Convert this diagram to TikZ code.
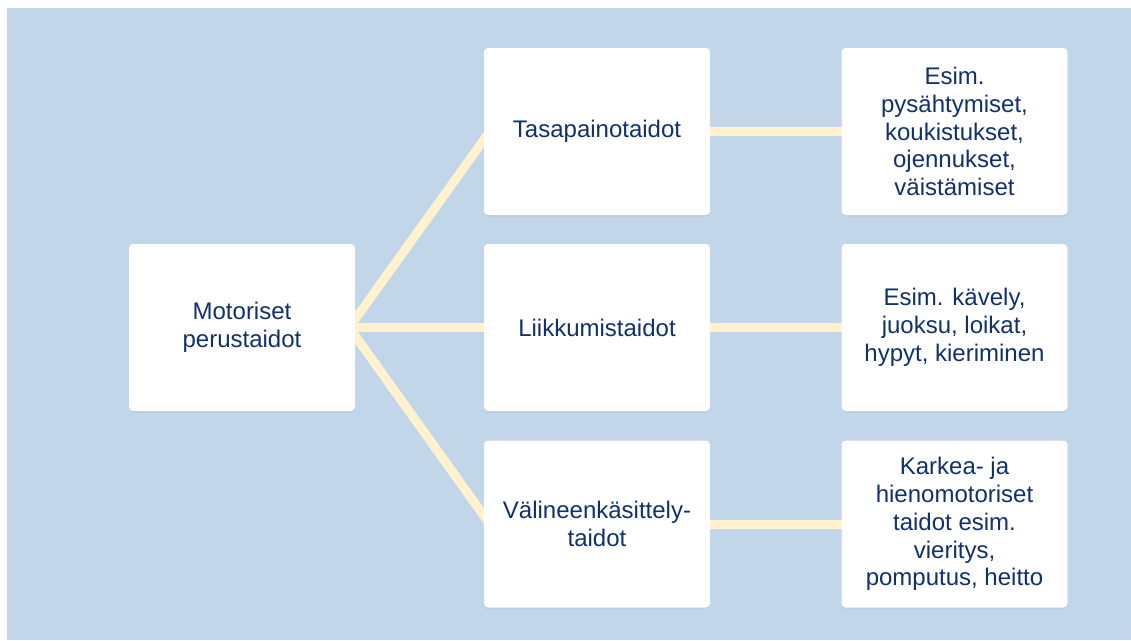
\documentclass[tikz,border=0pt]{standalone}
\usepackage{fontspec}
\setmainfont{Liberation Sans}
\usetikzlibrary{shadows,backgrounds}
\definecolor{bgblue}{RGB}{194,214,234}
\definecolor{txtblue}{RGB}{16,48,110}
\definecolor{cream}{RGB}{255,242,204}
\tikzset{
  card/.style={rectangle, rounded corners=4pt, fill=white, draw=none,
    minimum width=226pt, minimum height=167pt, align=center,
    text=txtblue, font=\fontsize{24}{27.8}\selectfont,
    drop shadow={opacity=0.12, shadow xshift=0pt, shadow yshift=-1.5pt}},
  link/.style={line width=9pt, cream}
}
\begin{document}
\begin{tikzpicture}[x=1pt,y=-1pt]
\useasboundingbox (0,0) rectangle (1131,640);
\node[card] (root) at (242,327.5) {Motoriset\\perustaidot};
\node[card] (m1) at (597,131.5) {Tasapainotaidot};
\node[card] (m2) at (597,327.5) {Liikkumistaidot};
\node[card] (m3) at (597,524) {Välineenkäsittely-\\taidot};
\node[card] (r1) at (954.5,131.5) {Esim.\\pysähtymiset,\\koukistukset,\\ojennukset,\\väistämiset};
\node[card] (r2) at (954.5,327.5) {Esim. kävely,\\juoksu, loikat,\\hypyt, kieriminen};
\node[card] (r3) at (954.5,524) {Karkea- ja\\hienomotoriset\\taidot esim.\\vieritys,\\pomputus, heitto};
\begin{pgfonlayer}{background}
\fill[bgblue] (7,8) rectangle (1131,640);
\draw[link] ([xshift=-6pt]root.east) -- ([xshift=6pt]m1.west);
\draw[link] ([xshift=-6pt]root.east) -- ([xshift=6pt]m2.west);
\draw[link] ([xshift=-6pt]root.east) -- ([xshift=6pt]m3.west);
\draw[link] ([xshift=-6pt]m1.east) -- ([xshift=6pt]r1.west);
\draw[link] ([xshift=-6pt]m2.east) -- ([xshift=6pt]r2.west);
\draw[link] ([xshift=-6pt]m3.east) -- ([xshift=6pt]r3.west);
\end{pgfonlayer}
\end{tikzpicture}
\end{document}
